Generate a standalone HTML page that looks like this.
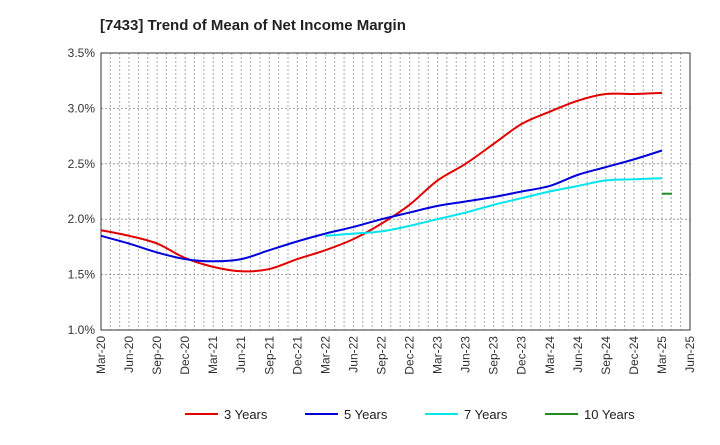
<!DOCTYPE html>
<html><head><meta charset="utf-8"><style>
body{margin:0;background:#fff;font-family:"Liberation Sans",sans-serif}
</style></head><body>
<svg width="720" height="440" xmlns="http://www.w3.org/2000/svg">
<text x="100" y="30" font-size="15" font-weight="bold" fill="#222">[7433]  Trend of Mean of Net Income Margin</text>
<g id="grid"></g><g id="axes"></g><g id="series"></g>
<g id="legend" font-size="13" fill="#222"></g>
</svg>
<script>
const xLabels=["Mar-20","Jun-20","Sep-20","Dec-20","Mar-21","Jun-21","Sep-21","Dec-21","Mar-22","Jun-22","Sep-22","Dec-22","Mar-23","Jun-23","Sep-23","Dec-23","Mar-24","Jun-24","Sep-24","Dec-24","Mar-25","Jun-25"];
const yTicks=[1.0,1.5,2.0,2.5,3.0,3.5];
const s3=[1.90,1.85,1.78,1.65,1.57,1.53,1.55,1.64,1.72,1.82,1.96,2.13,2.35,2.50,2.68,2.86,2.97,3.07,3.13,3.13,3.14];
const s5=[1.85,1.78,1.70,1.64,1.62,1.64,1.72,1.80,1.87,1.93,2.00,2.06,2.12,2.16,2.20,2.25,2.30,2.40,2.47,2.54,2.62];
const s7=[null,null,null,null,null,null,null,null,1.85,1.87,1.89,1.94,2.00,2.06,2.13,2.19,2.25,2.30,2.35,2.36,2.37];
const s10=[null,null,null,null,null,null,null,null,null,null,null,null,null,null,null,null,null,null,null,null,2.23];
const L=101,R=690,T=53,B=330;
const X=i=>L+(R-L)*i/21, Y=v=>B-(v-1.0)/2.5*(B-T);
const NS="http://www.w3.org/2000/svg";
function mk(p,t,a){const e=document.createElementNS(NS,t);for(const k in a)e.setAttribute(k,a[k]);p.appendChild(e);return e;}
const grid=document.getElementById('grid'),axes=document.getElementById('axes'),ser=document.getElementById('series'),leg=document.getElementById('legend');
for(let m=1;m<63;m++){const x=L+(R-L)*m/63;const l=mk(grid,'line',{x1:x,x2:x,y1:T,y2:B,stroke:'#aaa','stroke-dasharray':'2,2'});

}
yTicks.forEach(v=>{const y=Y(v);const l=mk(grid,'line',{x1:L,x2:R,y1:y,y2:y,stroke:'#999','stroke-dasharray':'2,2'});


const t=mk(axes,'text',{x:L-6,y:y+4,'text-anchor':'end','font-size':'12',fill:'#333'});t.textContent=v.toFixed(1)+'%';

});
const fr=mk(axes,'rect',{x:L,y:T,width:R-L,height:B-T,fill:'none',stroke:'#333'});


xLabels.forEach((s,i)=>{const x=X(i);const t=mk(axes,'text',{x:x+4,y:B+6,'text-anchor':'end','font-size':'12',fill:'#333',transform:`rotate(-90 ${x+4} ${B+6})`});t.textContent=s;

});
function path(arr){const pts=[];arr.forEach((v,i)=>{if(v!=null)pts.push([X(i),Y(v)]);});
if(pts.length==1)return `M${pts[0][0]-10},${pts[0][1]}L${pts[0][0]+10},${pts[0][1]}`;
let d=`M${pts[0][0]},${pts[0][1]}`;
for(let i=0;i<pts.length-1;i++){const p0=pts[Math.max(0,i-1)],p1=pts[i],p2=pts[i+1],p3=pts[Math.min(pts.length-1,i+2)];
d+=`C${p1[0]+(p2[0]-p0[0])/6},${p1[1]+(p2[1]-p0[1])/6} ${p2[0]-(p3[0]-p1[0])/6},${p2[1]-(p3[1]-p1[1])/6} ${p2[0]},${p2[1]}`;}
return d;}
const series=[[s3,'#e00000','3 Years','series-3-years'],[s5,'#0000dd','5 Years','series-5-years'],[s7,'#00e5ee','7 Years','series-7-years'],[s10,'#228b22','10 Years','series-10-years']];
series.forEach((s,k)=>{let d=path(s[0]);if(k==3){const x=X(20),y=Y(s[0][20]);d=`M${x},${y}L${x+10},${y}`;}
const p=mk(ser,'path',{d:d,fill:'none',stroke:s[1],'stroke-width':2});


const lx=185+k*120;
const ll=mk(leg,'line',{x1:lx,x2:lx+33,y1:414,y2:414,stroke:s[1],'stroke-width':2});


const lt=mk(leg,'text',{x:lx+39,y:419});lt.textContent=s[2];

});
</script>
</body></html>
